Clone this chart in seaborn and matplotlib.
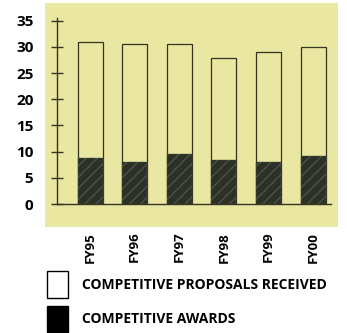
import pandas as pd
import seaborn as sns
import matplotlib
matplotlib.use("Agg")
from matplotlib import pyplot as plt
from matplotlib.patches import Rectangle, Patch

years = ["FY95", "FY96", "FY97", "FY98", "FY99", "FY00"]
proposals = [31.0, 30.5, 30.5, 27.8, 29.0, 30.0]
awards = [8.7, 8.1, 9.5, 8.4, 8.1, 9.2]

paper = "#e9e7a1"
ink = "#34341f"

sns.set_style("white")
plt.rcParams["font.family"] = ["Open Sans", "DejaVu Sans"]
plt.rcParams["font.weight"] = "bold"
plt.rcParams["text.color"] = "black"
plt.rcParams["xtick.color"] = "black"
plt.rcParams["ytick.color"] = "black"

df = pd.DataFrame({"year": years, "proposals": proposals, "awards": awards})

W, H = 347, 333
fig = plt.figure(figsize=(W / 100, H / 100), dpi=100)
fig.patch.set_facecolor("white")

# yellow paper behind the plot
fig.patches.append(Rectangle((45 / W, 1 - 227 / H), 293 / W, 224 / H,
                             transform=fig.transFigure, facecolor=paper,
                             edgecolor="none", zorder=-1))

ax = fig.add_axes([57 / W, 1 - 204 / H, 274 / W, 186 / H])
ax.set_facecolor("none")

sns.barplot(data=df, x="year", y="proposals", ax=ax, width=0.56,
            color=paper, edgecolor=ink, linewidth=0.9, saturation=1)
sns.barplot(data=df, x="year", y="awards", ax=ax, width=0.56,
            color="#2c3027", edgecolor="#4d5246", linewidth=0.3,
            hatch="///", saturation=1)

ax.set_xlim(-0.74, 5.4)
ax.set_ylim(0, 35.5)
ax.set_yticks(range(0, 36, 5))
ax.set_xlabel("")
ax.set_ylabel("")

for s in ["top", "right"]:
    ax.spines[s].set_visible(False)
for s in ["left", "bottom"]:
    ax.spines[s].set_color(ink)
    ax.spines[s].set_linewidth(1.0)

ax.tick_params(axis="y", direction="inout", length=8, width=1, color=ink,
               labelcolor="black", labelsize=11, pad=13, left=True)
ax.tick_params(axis="x", length=0, labelsize=9.5, pad=20, labelrotation=90,
               labelcolor="black")
for lbl in ax.get_xticklabels() + ax.get_yticklabels():
    lbl.set_fontweight("bold")

handles = [Patch(facecolor="white", edgecolor="black", linewidth=1.0),
           Patch(facecolor="black", edgecolor="black")]
leg = fig.legend(handles, ["COMPETITIVE PROPOSALS RECEIVED", "COMPETITIVE AWARDS"],
                 loc="upper left", bbox_to_anchor=(47 / W, 1 - 271 / H),
                 frameon=False, borderpad=0, borderaxespad=0,
                 handlelength=1.5, handleheight=2.6, handletextpad=1.0,
                 labelspacing=0.55, prop={"weight": "bold", "size": 10})
for t in leg.get_texts():
    t.set_color("black")

fig.savefig("out.png", dpi=100)
